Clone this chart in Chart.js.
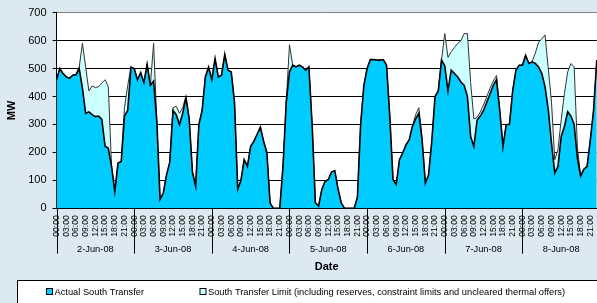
<!DOCTYPE html>
<html>
<head>
<meta charset="utf-8">
<script src="https://cdn.jsdelivr.net/npm/chart.js@4"></script>
<style>
html, body { margin: 0; padding: 0; overflow: hidden; background: #dce9f1; }
#wrap { width: 614px; height: 303px; position: relative; }
</style>
</head>
<body>
<div id="wrap"><canvas id="chart"></canvas></div>
<script>
const days = ['2-Jun-08', '3-Jun-08', '4-Jun-08', '5-Jun-08', '6-Jun-08', '7-Jun-08', '8-Jun-08'];
const hours = ['00:00', '01:00', '02:00', '03:00', '04:00', '05:00', '06:00', '07:00',
               '08:00', '09:00', '10:00', '11:00', '12:00', '13:00', '14:00', '15:00',
               '16:00', '17:00', '18:00', '19:00', '20:00', '21:00', '22:00', '23:00'];

// MW, one row per day, hourly
const actualTransfer = [
  460, 500, 482, 470, 465, 476, 478, 500, 430, 340, 345, 335, 328, 330, 318, 222, 215, 150,  60, 162, 168, 330, 350, 505,
  500, 460, 485, 450, 515, 440, 455, 310,  32,  55, 120, 165, 350, 335, 300, 340, 395, 320, 130,  80, 300, 350, 470, 505,
  460, 535, 470, 476, 550, 494, 488, 380,  68, 100, 174, 150, 222, 240, 265, 290, 240, 200,  20,   0,   0,   0, 150, 380,
  488, 512, 506, 512, 506, 494, 506, 300,  20,   8,  68,  97, 103, 130, 135,  70,  20,   0,   0,   0,   0,  40, 300, 440,
  500, 532, 532, 530, 530, 532, 512, 330, 103,  85, 174, 198, 227, 245, 293, 320, 340, 245,  90, 120, 240, 400, 420, 530,
  510, 420, 494, 482, 470, 452, 440, 400, 257, 221, 316, 330, 350, 380, 410, 440, 460, 350, 221, 300, 300, 420, 494, 512,
  512, 547, 518, 524, 518, 506, 482, 435, 352, 233, 127, 150, 257, 293, 346, 330, 300, 180, 115, 140, 150, 245, 350, 530
];

const transferLimit = [
  460, 500, 482, 470, 465, 476, 478, 505, 590, 505, 420, 438, 432, 435, 448, 460, 435, 150,  60, 162, 168, 360, 440, 505,
  500, 460, 485, 450, 515, 440, 590, 310,  32,  55, 120, 165, 360, 365, 340, 360, 402, 320, 130,  80, 300, 350, 470, 505,
  460, 535, 470, 476, 550, 494, 488, 380,  68, 100, 174, 150, 222, 240, 265, 290, 240, 200,  20,   0,   0,   0, 150, 380,
  585, 512, 506, 512, 506, 494, 506, 300,  20,   8,  68,  97, 103, 130, 135,  70,  20,   0,   0,   0,   0,  40, 300, 440,
  500, 532, 532, 530, 530, 532, 512, 330, 103,  85, 174, 198, 227, 245, 293, 335, 360, 245,  90, 120, 240, 400, 420, 530,
  625, 540, 560, 575, 590, 600, 625, 625, 450, 320, 325, 345, 370, 400, 430, 455, 475, 350, 221, 300, 300, 420, 494, 512,
  512, 547, 518, 524, 555, 594, 606, 620, 500, 380, 174, 210, 317, 411, 488, 518, 506, 220, 115, 140, 150, 245, 350, 530
];

const labels = days.flatMap(d => hours.map(h => d + ' ' + h));
const FONT = 'Arial, "Liberation Sans", sans-serif';

// white plot area on the blue panel
const plotBackground = {
  id: 'plotBackground',
  beforeDraw(chart) {
    const {ctx, chartArea: a} = chart;
    ctx.save();
    ctx.fillStyle = '#ffffff';
    ctx.fillRect(a.left, a.top, a.right - a.left, a.bottom - a.top);
    ctx.restore();
  }
};

// vertical separators between the days, under the time labels
const dayDividers = {
  id: 'dayDividers',
  afterDraw(chart) {
    const x = chart.scales.x;
    const d = chart.scales.days;
    const ctx = chart.ctx;
    ctx.save();
    ctx.strokeStyle = '#000';
    ctx.lineWidth = 1;
    ctx.beginPath();
    for (let k = 0; k <= days.length; k++) {
      const px = Math.round(x.getPixelForValue(k * hours.length)) + 0.5;
      ctx.moveTo(px, chart.chartArea.bottom);
      ctx.lineTo(px, d.top + 10);
    }
    ctx.stroke();
    ctx.restore();
  }
};

// boxed legend like the spreadsheet one
const boxLegend = {
  id: 'boxLegend',
  afterDraw(chart) {
    const ctx = chart.ctx;
    const top = chart.height - 22.5;
    const itemX = [46, 199.5];
    ctx.save();
    ctx.fillStyle = '#ffffff';
    ctx.strokeStyle = '#000';
    ctx.lineWidth = 1;
    ctx.fillRect(17.5, top, chart.width + 20, 40);
    ctx.strokeRect(17.5, top, chart.width + 20, 40);
    ctx.font = '9.3px ' + FONT;
    ctx.textBaseline = 'middle';
    chart.data.datasets.forEach((ds, i) => {
      ctx.fillStyle = ds.backgroundColor;
      ctx.fillRect(itemX[i] + 0.5, top + 8, 6, 6);
      ctx.strokeRect(itemX[i] + 0.5, top + 8, 6, 6);
      ctx.fillStyle = '#000';
      ctx.fillText(ds.label, itemX[i] + 8.5, top + 11.5);
    });
    ctx.restore();
  }
};

new Chart(document.getElementById('chart'), {
  type: 'line',
  data: {
    labels: labels,
    datasets: [
      {
        label: 'Actual South Transfer',
        data: actualTransfer,
        backgroundColor: '#00ccff',
        borderColor: '#000',
        borderWidth: 1.6,
        fill: 'origin',
        pointRadius: 0,
        tension: 0
      },
      {
        label: 'South Transfer Limit (including reserves, constraint limits and uncleared thermal offers)',
        data: transferLimit,
        backgroundColor: '#ccffff',
        borderColor: '#333',
        borderWidth: 1,
        fill: 'origin',
        pointRadius: 0,
        tension: 0
      }
    ]
  },
  options: {
    responsive: true,
    maintainAspectRatio: false,
    animation: false,
    layout: { padding: { left: 0, right: 2, top: 12, bottom: 26 } },
    plugins: {
      legend: { display: false },
      tooltip: { enabled: false }
    },
    scales: {
      x: {
        type: 'category',
        offset: false,
        weight: 0,
        z: 1,
        grid: { display: false, drawTicks: false },
        border: { display: true, color: '#000', width: 1 },
        ticks: {
          autoSkip: false,
          minRotation: 90,
          maxRotation: 90,
          padding: 7,
          color: '#000',
          font: { family: FONT, size: 8.5 },
          callback: (v, i) => i % 3 === 0 ? hours[i % 24] : ''
        }
      },
      // day names centred under each block of hours (same units as x: one day = 1)
      days: {
        type: 'linear',
        position: 'bottom',
        weight: 1,
        min: 0,
        max: (labels.length - 1) / hours.length,
        afterBuildTicks: s => { s.ticks = days.map((d, i) => ({ value: i + 0.5 })); },
        grid: { display: false, drawTicks: false },
        border: { display: false },
        ticks: {
          autoSkip: false,
          maxRotation: 0,
          padding: 0,
          color: '#000',
          font: { family: FONT, size: 9.3 },
          callback: v => days[Math.floor(v)]
        },
        title: {
          display: true,
          text: 'Date',
          color: '#000',
          font: { family: FONT, size: 11, weight: 'bold' },
          padding: { top: 6, bottom: 3 }
        }
      },
      y: {
        min: 0,
        max: 700,
        ticks: {
          stepSize: 100,
          padding: 6,
          color: '#000',
          font: { family: FONT, size: 11 }
        },
        grid: {
          color: c => c.tick && c.tick.value === 700 ? '#808080' : '#000',
          tickColor: '#000',
          tickLength: 4
        },
        border: { color: '#000', width: 1 },
        title: {
          display: true,
          text: 'MW',
          color: '#000',
          font: { family: FONT, size: 11, weight: 'bold' },
          padding: { top: 5, bottom: 4 }
        }
      }
    }
  },
  plugins: [plotBackground, dayDividers, boxLegend]
});
</script>
</body>
</html>
